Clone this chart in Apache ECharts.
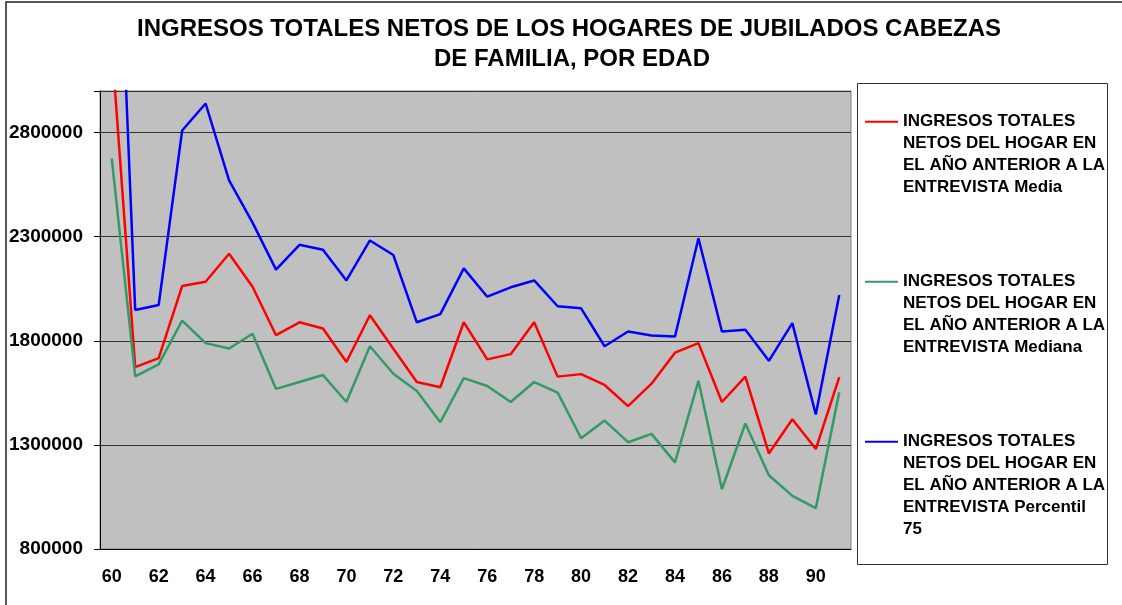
<!DOCTYPE html>
<html>
<head>
<meta charset="utf-8">
<script src="https://cdn.jsdelivr.net/npm/echarts@6/dist/echarts.min.js"></script>
<style>
  html, body { margin: 0; padding: 0; background: #fff; }
  #chart { width: 1122px; height: 605px; }
</style>
</head>
<body>
<div id="chart"></div>
<script>
// edades (eje x)
var edades = [];
for (var e = 60; e <= 91; e++) edades.push(String(e));

var nombres = [
  'INGRESOS TOTALES\nNETOS DEL HOGAR EN\nEL AÑO ANTERIOR A LA\nENTREVISTA Media',
  'INGRESOS TOTALES\nNETOS DEL HOGAR EN\nEL AÑO ANTERIOR A LA\nENTREVISTA Mediana',
  'INGRESOS TOTALES\nNETOS DEL HOGAR EN\nEL AÑO ANTERIOR A LA\nENTREVISTA Percentil\n75'
];

var media = [3220000, 1674000, 1717000, 2063000, 2084000, 2218000, 2060000, 1827000,
  1889000, 1859000, 1698000, 1923000, 1762000, 1602000, 1577000, 1889000,
  1711000, 1736000, 1889000, 1628000, 1640000, 1588000, 1486000, 1594000,
  1743000, 1789000, 1506000, 1628000, 1259000, 1423000, 1280000, 1626000];

var mediana = [2676000, 1629000, 1687000, 1897000, 1789000, 1763000, 1834000, 1569000,
  1602000, 1636000, 1506000, 1774000, 1642000, 1559000, 1409000, 1621000,
  1583000, 1506000, 1602000, 1551000, 1332000, 1417000, 1313000, 1353000,
  1216000, 1608000, 1087000, 1403000, 1154000, 1055000, 996000, 1553000];

var percentil75 = [4680000, 1948000, 1972000, 2810000, 2940000, 2571000, 2368000, 2142000,
  2261000, 2237000, 2090000, 2282000, 2212000, 1889000, 1928000, 2148000,
  2012000, 2057000, 2090000, 1966000, 1956000, 1774000, 1845000, 1826000,
  1821000, 2293000, 1845000, 1853000, 1704000, 1885000, 1446000, 2020000];

var colores = ['#ff0000', '#339966', '#0000ff'];
var fuente = 'Arial, "Liberation Sans", sans-serif';

// una leyenda por serie; las lineas en blanco delante dejan la primera linea a la altura del icono
function leyenda(i, top, lineas) {
  var blancos = new Array(lineas).join('\n');
  return {
    data: [nombres[i]],
    orient: 'vertical',
    left: 865,
    top: top,
    padding: 0,
    icon: 'rect',
    itemWidth: 33,
    itemHeight: 2,
    selectedMode: false,
    formatter: function (name) { return blancos + name; },
    textStyle: {
      fontFamily: fuente,
      fontWeight: 'bold',
      fontSize: 17,
      lineHeight: 22,
      color: '#000'
    }
  };
}

function serie(i, datos) {
  return {
    name: nombres[i],
    type: 'line',
    data: datos,
    symbol: 'none',
    color: colores[i],
    lineStyle: { width: 2.5, color: colores[i] },
    animation: false
  };
}

function titulo(texto, left) {
  return {
    text: texto,
    left: left,
    top: 9,
    textStyle: {
      fontFamily: fuente,
      fontWeight: 'bold',
      fontSize: 24,
      lineHeight: 30,
      color: '#000'
    }
  };
}

var chart = echarts.init(document.getElementById('chart'));
chart.setOption({
  backgroundColor: '#fff',
  animation: false,
  title: [
    titulo('INGRESOS TOTALES NETOS DE LOS HOGARES DE JUBILADOS CABEZAS', 132),
    {
      text: 'DE FAMILIA, POR EDAD',
      left: 429,
      top: 39,
      textStyle: {
        fontFamily: fuente,
        fontWeight: 'bold',
        fontSize: 24,
        lineHeight: 30,
        color: '#000'
      }
    }
  ],
  legend: [
    leyenda(0, 44.7, 4),
    leyenda(1, 204.7, 4),
    leyenda(2, 342.7, 5)
  ],
  grid: {
    left: 100,
    right: 271,
    top: 91,
    bottom: 56,
    show: true,
    backgroundColor: '#c0c0c0',
    borderColor: '#808080',
    borderWidth: 1
  },
  xAxis: {
    type: 'category',
    data: edades,
    boundaryGap: true,
    axisLine: { lineStyle: { color: '#000', width: 1 } },
    axisTick: { interval: 0, length: 6, lineStyle: { color: '#000' } },
    axisLabel: {
      interval: 1,
      margin: 19,
      fontFamily: fuente,
      fontWeight: 'bold',
      fontSize: 18,
      color: '#000'
    },
    splitLine: { show: false }
  },
  yAxis: {
    type: 'value',
    min: 800000,
    max: 3000000,
    interval: 500000,
    axisLine: { show: true, lineStyle: { color: '#000', width: 1 } },
    axisTick: { show: true, length: 6, lineStyle: { color: '#000' } },
    axisLabel: {
      margin: 17,
      fontFamily: fuente,
      fontWeight: 'bold',
      fontSize: 19,
      color: '#000',
      formatter: function (v) { return v >= 3000000 ? '' : String(v); }
    },
    splitLine: { lineStyle: { color: '#333', width: 1 } }
  },
  series: [
    serie(0, media),
    serie(1, mediana),
    serie(2, percentil75)
  ],
  graphic: [
    {
      type: 'rect',
      shape: { x: 857.5, y: 83.5, width: 250, height: 481 },
      style: { fill: null, stroke: '#333', lineWidth: 1 },
      silent: true
    },
    {
      type: 'polyline',
      shape: { points: [[6, 605], [6, 2], [1122, 2]] },
      style: { fill: null, stroke: '#222', lineWidth: 1.5 },
      silent: true
    }
  ]
});
</script>
</body>
</html>
